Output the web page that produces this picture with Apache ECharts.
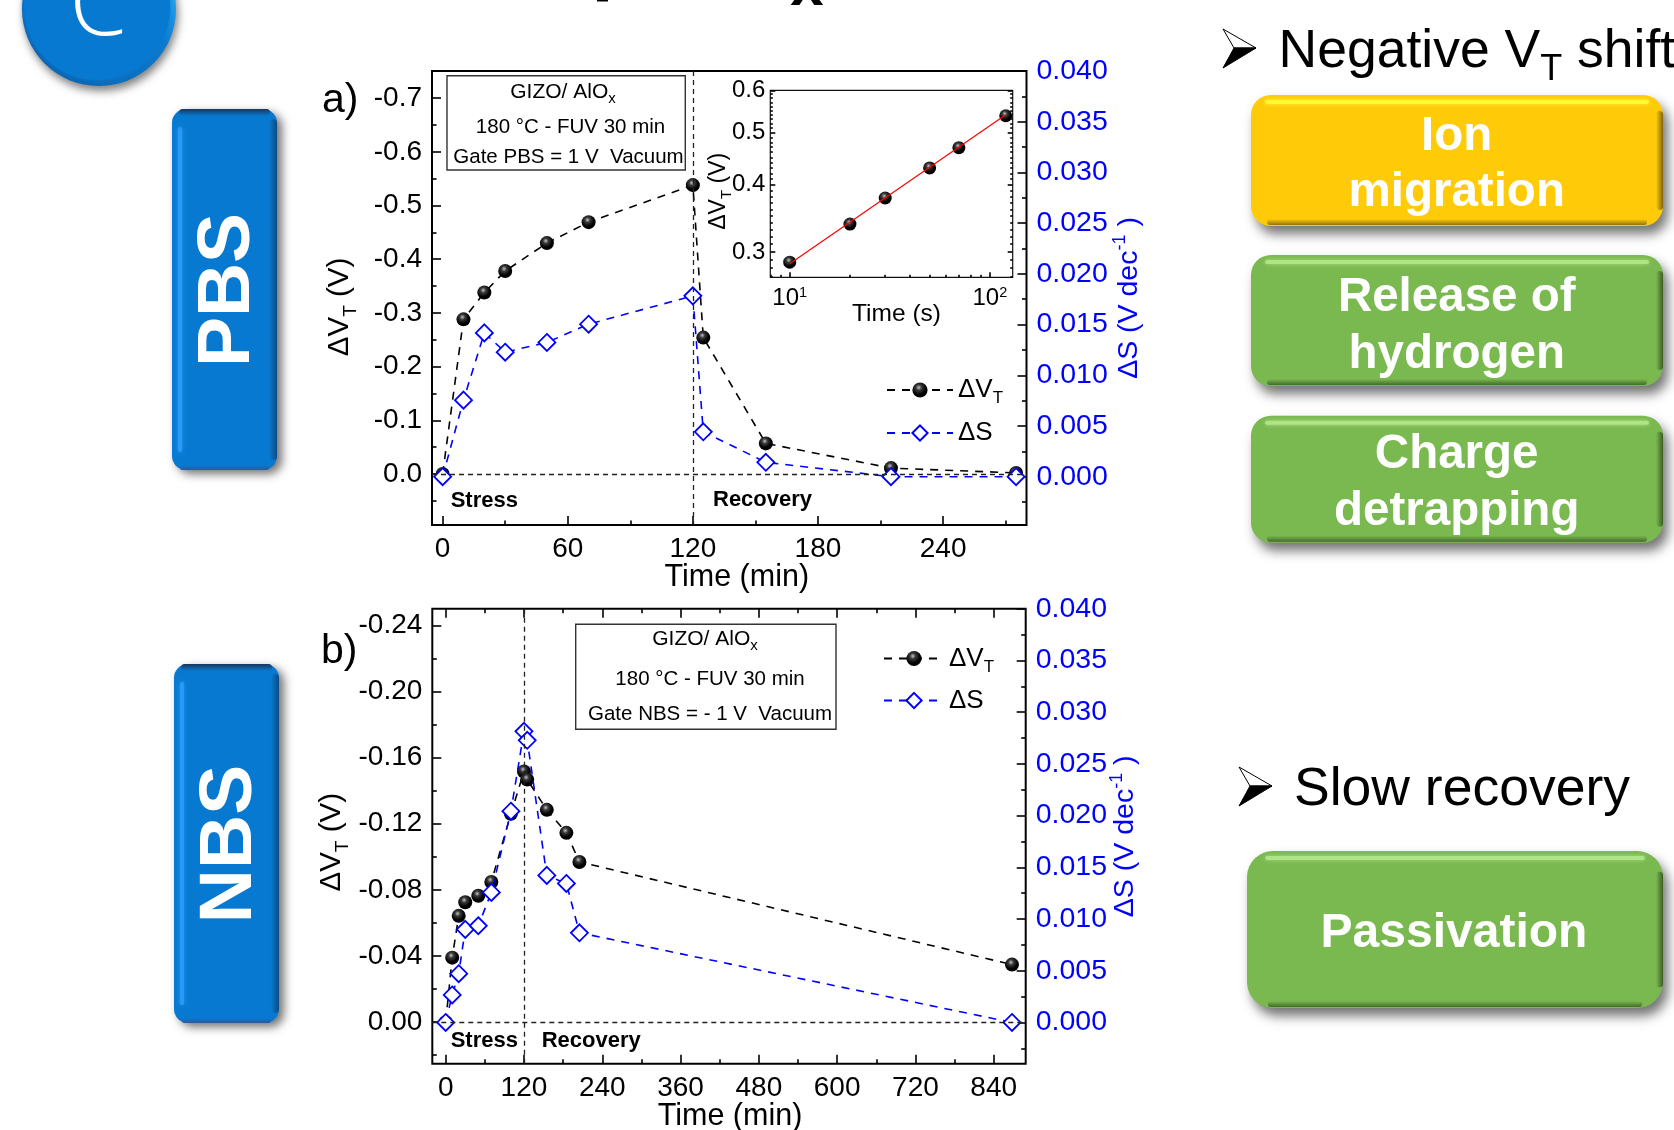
<!DOCTYPE html>
<html><head><meta charset="utf-8">
<style>html,body{margin:0;padding:0;background:#fff}#c{width:1674px;height:1130px}</style>
<script src="https://cdn.jsdelivr.net/npm/echarts@6/dist/echarts.min.js"></script>
</head><body><div id="c"></div>
<script>
// ---- data: panel a (PBS)
const aTime   = [0,10,20,30,50,70,120,125,155,215,275];
const aVT     = [0,-0.288,-0.338,-0.378,-0.43,-0.469,-0.538,-0.254,-0.057,-0.011,-0.002];
const aS      = [0,0.00755,0.01418,0.01228,0.01324,0.01504,0.01783,0.00443,0.00142,0,0];
// ---- data: inset of panel a
const inTime  = [10,20,30,50,70,120];
const inVT    = [0.287,0.338,0.378,0.43,0.469,0.538];
const fitTime = [10,120];
const fitVT   = [0.285,0.54];
// ---- data: panel b (NBS)
const bTime   = [0,10,20,30,50,70,100,120,125,155,185,205,868];
const bVT     = [0,-0.039,-0.0643,-0.0725,-0.0764,-0.0848,-0.126,-0.1516,-0.1467,-0.1284,-0.1145,-0.0969,-0.0348];
const bS      = [0,0.00266,0.00471,0.009,0.00935,0.01257,0.02043,0.02815,0.02728,0.01422,0.01344,0.00867,0];
// ---- ticks
const aXMajor = [0,60,120,180,240];
const aXMinor = [30,90,150,210,270];
const aLMajor = [-0.7,-0.6,-0.5,-0.4,-0.3,-0.2,-0.1,0];
const aLMinor = [-0.65,-0.55,-0.45,-0.35,-0.25,-0.15,-0.05,0.05];
const rMajor  = [0,0.005,0.01,0.015,0.02,0.025,0.03,0.035,0.04];
const rMinor  = [-0.0025,0.0025,0.0075,0.0125,0.0175,0.0225,0.0275,0.0325,0.0375];
const bXMajor = [0,120,240,360,480,600,720,840];
const bXMinor = [60,180,300,420,540,660,780];
const bLMajor = [-0.24,-0.2,-0.16,-0.12,-0.08,-0.04,0];
const bLMinor = [-0.22,-0.18,-0.14,-0.1,-0.06,-0.02,0.02];
const inXMajor = [10,100];
const inXMinor = [8,9,20,30,40,50,60,70,80,90];
const inYMajor = [0.3,0.4,0.5,0.6];
const inYMinor = [0.27,0.28,0.29,0.31,0.32,0.33,0.34,0.35,0.36,0.37,0.38,0.39,0.41,0.42,0.43,0.44,0.45,0.46,0.47,0.48,0.49,0.51,0.52,0.53,0.54,0.55,0.56,0.57,0.58,0.59];

const zip = (x,y) => x.map((v,i)=>[v,y[i]]);
const FONT = '"Liberation Sans", Arial, sans-serif';
const BLUE = '#0000ff';
const sphere = {type:'radial',x:0.42,y:0.34,r:0.62,colorStops:[{offset:0,color:'#c4c4c4'},{offset:0.3,color:'#3a3a3a'},{offset:0.75,color:'#000'},{offset:1,color:'#000'}]};

function ax(grid,min,max,pos,ticks,len,extra){
  return Object.assign({gridIndex:grid,type:'value',min,max,position:pos,
    axisLine:{show:false,onZero:false},
    axisTick:{show:true,inside:true,length:len,customValues:ticks,lineStyle:{color:'#000',width:1.6}},
    axisLabel:{show:false},splitLine:{show:false},minorTick:{show:false},minorSplitLine:{show:false}},extra||{});
}
function labels(vals,fmt,color,size,margin){
  return {show:true,customValues:vals,formatter:fmt,color,fontSize:size,fontFamily:FONT,margin,hideOverlap:false,showMinLabel:true,showMaxLabel:true};
}
const subRich = (n,s,p)=>({n:{fontSize:n,fontFamily:FONT,color:'#000'},s:{fontSize:s,fontFamily:FONT,color:'#000',padding:[p,0,0,0]}});
function nameOpts(name,gap,rot,rich,pad,color){
  return {name,nameLocation:'middle',nameGap:gap,nameRotate:rot,nameMoveOverlap:false,
    nameTextStyle:{rich,padding:pad,color:color||'#000',fontFamily:FONT}};
}
const vtName='{n|ΔV}{s|T}{n| (V)}';
const dsName='{n|ΔS (V dec}{p|-1}{n| )}';
const dsRich={n:{fontSize:28.5,fontFamily:FONT,color:BLUE},p:{fontSize:18,fontFamily:FONT,color:BLUE,padding:[0,0,17,0]}};
const timeRich={n:{fontSize:30.5,fontFamily:FONT,color:'#000'}};

const A={min:-5.1,max:280,lmin:-0.7505,lmax:0.095,rmin:-0.00476,rmax:0.04};
const B={min:-20.5,max:889,lmin:-0.25,lmax:0.0252,rmin:-0.004,rmax:0.04};
const I={xmin:8,xmax:130,ymin:0.269,ymax:0.6};

const f1=v=>(+v).toFixed(1), f2=v=>(+v).toFixed(2), f3=v=>(+v).toFixed(3), f0=v=>String(Math.round(v));

const xAxis=[
  ax(0,A.min,A.max,'bottom',aXMajor,9,Object.assign({axisLabel:labels(aXMajor,f0,'#000',28,10)},nameOpts('{n|Time (min)}',37,0,timeRich,[0,0,0,15]))),
  ax(0,A.min,A.max,'bottom',aXMinor,4.5),
  ax(1,I.xmin,I.xmax,'bottom',inXMajor,5,Object.assign({type:'log',logBase:10,axisLabel:Object.assign(labels(inXMajor,v=>'{b|10}{p|'+(v>50?2:1)+'}','#000',24,8),{rich:{b:{fontSize:24,fontFamily:FONT,color:'#000'},p:{fontSize:14.5,fontFamily:FONT,color:'#000',padding:[0,0,12,0]}}})},nameOpts('{n|Time (s)}',24,0,{n:{fontSize:24.5,fontFamily:FONT,color:'#000'}},[0,0,0,10]))),
  ax(1,I.xmin,I.xmax,'bottom',inXMinor,2.5,{type:'log',logBase:10}),
  ax(2,B.min,B.max,'bottom',bXMajor,9,Object.assign({axisLabel:labels(bXMajor,f0,'#000',28,10)},nameOpts('{n|Time (min)}',37,0,timeRich,[0,0,0,2]))),
  ax(2,B.min,B.max,'bottom',bXMinor,4.5),
  ax(2,B.min,B.max,'top',bXMajor,9),
  ax(2,B.min,B.max,'top',bXMinor,4.5)
];
const yAxis=[
  ax(0,A.lmin,A.lmax,'left',aLMajor,9,Object.assign({inverse:true,axisLabel:labels(aLMajor,f1,'#000',28,10)},nameOpts(vtName,72,90,subRich(29.5,19,21),[0,18,0,0]))),
  ax(0,A.lmin,A.lmax,'left',aLMinor,4.5,{inverse:true}),
  ax(0,A.rmin,A.rmax,'right',rMajor,9,Object.assign({axisLabel:labels(rMajor,f3,BLUE,28.5,10)},nameOpts(dsName,85,90,dsRich,[0,0,0,0],BLUE))),
  ax(0,A.rmin,A.rmax,'right',rMinor,4.5),
  ax(1,I.ymin,I.ymax,'left',inYMajor,5,Object.assign({type:'log',logBase:10,axisLabel:labels(inYMajor,f1,'#000',24,5)},nameOpts(vtName,36,90,subRich(23,15,17),[0,15,0,0]))),
  ax(1,I.ymin,I.ymax,'left',inYMinor,2.5,{type:'log',logBase:10}),
  ax(1,I.ymin,I.ymax,'right',inYMajor,5,{type:'log',logBase:10}),
  ax(1,I.ymin,I.ymax,'right',inYMinor,2.5,{type:'log',logBase:10}),
  ax(2,B.lmin,B.lmax,'left',bLMajor,9,Object.assign({inverse:true,axisLabel:labels(bLMajor,f2,'#000',28,10)},nameOpts(vtName,80,90,subRich(29.5,19,21),[0,12,0,0]))),
  ax(2,B.lmin,B.lmax,'left',bLMinor,4.5,{inverse:true}),
  ax(2,B.rmin,B.rmax,'right',rMajor,9,Object.assign({axisLabel:labels(rMajor,f3,BLUE,28.5,10)},nameOpts(dsName,82,90,dsRich,[0,0,0,0],BLUE))),
  ax(2,B.rmin,B.rmax,'right',rMinor,4.5)
];

const refLine={silent:true,symbol:'none',label:{show:false},animation:false,
  lineStyle:{color:'#222',type:[5,4],width:1.3},data:[{xAxis:120},{yAxis:0}]};
const dash=[8,7];
function vtSeries(name,x,y,data,extra){
  return Object.assign({type:'line',name,xAxisIndex:x,yAxisIndex:y,data,symbol:'circle',symbolSize:14,z:3,
    lineStyle:{color:'#000',type:dash,width:1.6},itemStyle:{color:sphere,borderWidth:0}},extra||{});
}
function dsSeries(name,x,y,data){
  return {type:'line',name,xAxisIndex:x,yAxisIndex:y,data,symbol:'diamond',symbolSize:17,z:4,
    lineStyle:{color:BLUE,type:dash,width:1.6},itemStyle:{color:'#fff',borderColor:BLUE,borderWidth:1.8}};
}
const series=[
  vtSeries('ΔVT',0,0,zip(aTime,aVT),{markLine:refLine}),
  dsSeries('ΔS',0,2,zip(aTime,aS)),
  {type:'line',name:'fit',xAxisIndex:2,yAxisIndex:4,data:zip(fitTime,fitVT),symbol:'none',z:4,lineStyle:{color:'#ff0000',width:1.2}},
  vtSeries('inset',2,4,zip(inTime,inVT),{lineStyle:{width:0},z:3,symbolSize:13}),
  vtSeries('ΔVT',4,8,zip(bTime,bVT),{markLine:refLine}),
  dsSeries('ΔS',4,10,zip(bTime,bS))
];
const legendBase={orient:'vertical',padding:0,itemHeight:19,selectedMode:false,
  formatter:n=>n==='ΔVT'?'{n|ΔV}{s|T}':'{n|ΔS}',
  textStyle:{rich:{n:{fontSize:26,fontFamily:FONT,color:'#000'},s:{fontSize:17,fontFamily:FONT,color:'#000',padding:[17,0,0,0]}}},
  data:['ΔVT','ΔS']};

// ---- decoration
const g=[];
function txt(text,x,y,size,o){
  o=o||{};
  g.push({type:'text',x,y,rotation:o.rot||0,z:o.z||50,style:{text,fontSize:size,fontFamily:o.font||FONT,fontWeight:o.weight||'normal',
    fill:o.color||'#000',align:o.align||'center',verticalAlign:'middle',rich:o.rich}});
}
function rr(x,y,w,h,r,fill,o){
  g.push(Object.assign({type:'rect',shape:{x,y,width:w,height:h,r},z:(o&&o.z)||20,style:Object.assign({fill},o&&o.style)}));
}
const vg=(a,b)=>({type:'linear',x:0,y:0,x2:0,y2:1,colorStops:[{offset:0,color:a},{offset:1,color:b}]});
const hg=(a,b)=>({type:'linear',x:0,y:0,x2:1,y2:0,colorStops:[{offset:0,color:a},{offset:1,color:b}]});
function button(x,y,w,h,r,base,hi,lo,lines,cx,baselines,size){
  rr(x,y,w,h,r,base,{style:{shadowBlur:12,shadowOffsetX:5,shadowOffsetY:8,shadowColor:'rgba(0,0,0,0.55)'}});
  rr(x+r*0.7,y+5,w-r*1.4,4,2,hi,{style:{shadowBlur:4,shadowColor:hi,opacity:0.85}});
  rr(x+w-7,y+r*0.8,7,h-r*1.6,3.5,hg(base,lo));
  rr(x+r*0.8,y+h-7,w-r*1.6,6,3,vg(base,lo),{style:{opacity:0.85}});
  lines.forEach((l,i)=>txt(l,cx,baselines[i]-0.27*size,size,{weight:'bold',color:'#fff'}));
}
function blueBox(x,y,w,h,label,cx,cy){
  const base='#0779d1';
  rr(x,y,w,h,14,base,{style:{shadowBlur:10,shadowOffsetX:5,shadowOffsetY:4,shadowColor:'rgba(0,0,0,0.55)'}});
  rr(x+7,y,w-14,7,3.5,vg('#17375e',base));
  rr(x+6,y+18,4,h-36,2,'#2a9dfc',{style:{shadowBlur:4,shadowColor:'#2a9dfc',opacity:0.85}});
  rr(x+w-8,y+10,8,h-20,4,hg(base,'#0f4a80'));
  rr(x+8,y+h-5,w-16,5,2.5,vg(base,'#2c5a9a'));
  txt(label,cx,cy,75,{weight:'bold',color:'#fff',rot:Math.PI/2});
}
function arrow(x,y){
  g.push({type:'polygon',z:30,shape:{points:[[x,y],[x+33,y+19],[x+11,y+19]]},style:{fill:'#fff',stroke:'#000',lineWidth:1}});
  g.push({type:'polygon',z:30,shape:{points:[[x+11,y+19],[x+33,y+19],[x,y+39]]},style:{fill:'#000',stroke:'#000',lineWidth:1}});
}
function noteBox(x,y,w,h){
  g.push({type:'rect',z:15,shape:{x,y,width:w,height:h},style:{fill:'#fff',stroke:'#333',lineWidth:1.4}});
}
// section badge
g.push({type:'circle',z:20,shape:{cx:99,cy:9,r:77},style:{fill:{type:'linear',x:0,y:1,x2:1,y2:0,colorStops:[{offset:0,color:'#0a5ea6'},{offset:0.6,color:'#0a7ad0'},{offset:0.8,color:'#2aa5ee'},{offset:1,color:'#7fe4ff'}]},shadowBlur:9,shadowOffsetX:2,shadowOffsetY:5,shadowColor:'rgba(0,0,0,0.5)'}});
g.push({type:'circle',z:21,shape:{cx:97,cy:7,r:73},style:{fill:'#0779d1',shadowBlur:4,shadowColor:'#0779d1'}});
txt('C',98,9,92,{color:'#fff',font:'"Open Sans", sans-serif',weight:300,z:25});
blueBox(172,109,105,361,'PBS',228,290);
blueBox(174,664,105,359,'NBS',230,844);
// clipped title fragments at the top edge
txt('x',807,-12,60,{weight:'bold'});
rr(597,0,11,1.5,0,'#000',{z:30});
// right-hand notes
arrow(1223,29);
txt('{n|Negative V}{s|T}{n| shift}',1278.5,52,53.5,{align:'left',rich:{n:{fontSize:53.5,fontFamily:FONT,color:'#000'},s:{fontSize:36,fontFamily:FONT,color:'#000',padding:[36,0,0,0]}}});
arrow(1239,767);
txt('Slow recovery',1294,790,53.5,{align:'left'});
button(1251,95,412,131,20,'#ffcb08','#fdfd3a','#7f6410',['Ion','migration'],1456.7,[150,206],47.5);
button(1251,255,412,131,20,'#7ab850','#b4e88a','#3a5e25',['Release of','hydrogen'],1456.7,[310.7,367.7],47.5);
button(1251,415.7,412,127,20,'#7ab850','#b4e88a','#3a5e25',['Charge','detrapping'],1456.7,[468,525],47.5);
button(1247,851,416,157,26,'#7ab850','#b4e88a','#3a5e25',['Passivation'],1454,[946.7],48);
// panel letters, annotations
txt('a)',322,101,41,{align:'left'});
txt('b)',321,652,41,{align:'left'});
const noteRich={n:{fontSize:21,fontFamily:FONT,color:'#000'},s:{fontSize:15,fontFamily:FONT,color:'#000',padding:[14,0,0,0]}};
noteBox(447,75.7,238.3,94.3);
txt('{n|GIZO/ AlO}{s|x}',563,92,21,{rich:noteRich});
txt('180 °C - FUV 30 min',570.5,127.5,20.5);
txt('Gate PBS = 1 V  Vacuum',568.5,157.5,20.5);
noteBox(575.7,624.3,260.3,105);
txt('{n|GIZO/ AlO}{s|x}',705,639,21,{rich:noteRich});
txt('180 °C - FUV 30 min',710,679.5,20.5);
txt('Gate NBS = - 1 V  Vacuum',710,714.5,20.5);
txt('Stress',450.7,501,22,{align:'left',weight:'bold'});
txt('Recovery',713,500,22,{align:'left',weight:'bold'});
txt('Stress',450.7,1041,22,{align:'left',weight:'bold'});
txt('Recovery',541.7,1041,22,{align:'left',weight:'bold'});

const chart=echarts.init(document.getElementById('c'),null,{renderer:'canvas'});
chart.setOption({
  animation:false,backgroundColor:'#fff',
  grid:[
    {left:432,top:71,width:594.5,height:454,show:true,borderColor:'#000',borderWidth:2,backgroundColor:'transparent',outerBoundsMode:'none'},
    {left:770.3,top:90.3,width:242.4,height:187,show:true,borderColor:'#111',borderWidth:1.2,backgroundColor:'transparent',outerBoundsMode:'none'},
    {left:432.3,top:608.8,width:593.4,height:455,show:true,borderColor:'#000',borderWidth:2,backgroundColor:'transparent',outerBoundsMode:'none'}
  ],
  xAxis,yAxis,series,
  legend:[
    Object.assign({},legendBase,{left:886,top:377,itemWidth:66,itemGap:13}),
    Object.assign({},legendBase,{left:883,top:645.5,itemWidth:60,itemGap:12})
  ],
  graphic:{elements:g}
});
</script></body></html>
